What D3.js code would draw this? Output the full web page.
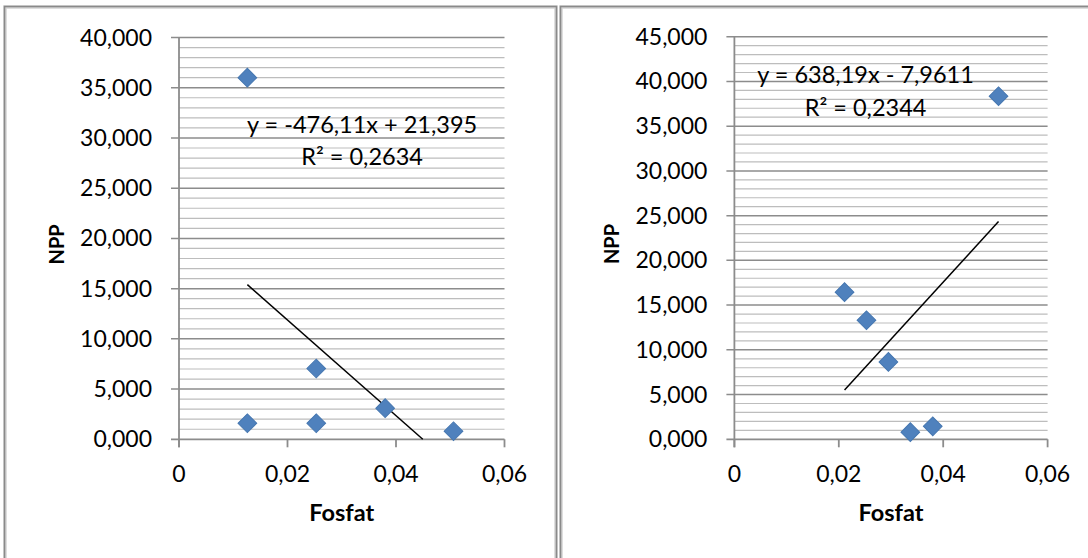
<!DOCTYPE html>
<html>
<head>
<meta charset="utf-8">
<script src="https://cdn.jsdelivr.net/npm/d3@7"></script>
<style>
  html, body { margin: 0; padding: 0; background: #fff; }
  svg { display: block; }
  text { font-family: Lato, "Open Sans", sans-serif; fill: #000; }
</style>
</head>
<body>
<svg id="chart" width="1088" height="558"></svg>
<script>
// ---------- DATA ----------
const xTickValues = [0, 0.02, 0.04, 0.06];
const xTickLabels = ["0", "0,02", "0,04", "0,06"];

const leftYTickValues = [0, 5, 10, 15, 20, 25, 30, 35, 40];
const leftYTickLabels = ["0,000", "5,000", "10,000", "15,000", "20,000", "25,000", "30,000", "35,000", "40,000"];
const rightYTickValues = [0, 5, 10, 15, 20, 25, 30, 35, 40, 45];
const rightYTickLabels = ["0,000", "5,000", "10,000", "15,000", "20,000", "25,000", "30,000", "35,000", "40,000", "45,000"];

// Left chart: Fosfat vs NPP
const leftFosfat = [0.0126, 0.0126, 0.0253, 0.0253, 0.0380, 0.0506];
const leftNPP    = [36.0, 1.6, 7.05, 1.6, 3.1, 0.8];
const leftTrend  = [-476.11, 21.395];   // slope, intercept
const leftEquation = ["y = -476,11x + 21,395", "R² = 0,2634"];

// Right chart: Fosfat vs NPP
const rightFosfat = [0.0211, 0.0253, 0.0295, 0.0337, 0.0380, 0.0506];
const rightNPP    = [16.45, 13.3, 8.65, 0.8, 1.45, 38.35];
const rightTrend  = [638.19, -7.9611];
const rightEquation = ["y = 638,19x - 7,9611", "R² = 0,2344"];

const xTitle = "Fosfat";
const yTitle = "NPP";

// ---------- DRAW ----------
const svg = d3.select("#chart");

function drawFrame(x, y, w, h) {
  svg.append("rect").attr("x", x).attr("y", y).attr("width", w).attr("height", h)
    .attr("fill", "none").attr("stroke", "#d4d4d4").attr("stroke-width", 3.5);
  svg.append("rect").attr("x", x - 0.5).attr("y", y - 0.5).attr("width", w + 1).attr("height", h + 1)
    .attr("fill", "none").attr("stroke", "#8a8a8a").attr("stroke-width", 1.6);
}

function drawChart(cfg) {
  const x = d3.scaleLinear().domain([0, 0.06]).range([cfg.left, cfg.right]);
  const y = d3.scaleLinear().domain([0, cfg.yMax]).range([cfg.bottom, cfg.top]);
  const g = svg.append("g");

  // minor gridlines
  const minor = d3.range(1, cfg.yMax).filter(v => v % 5 !== 0);
  g.selectAll(".minor").data(minor).join("line")
    .attr("x1", x(0)).attr("x2", x(0.06))
    .attr("y1", d => y(d)).attr("y2", d => y(d))
    .attr("stroke", "#bdbdbd").attr("stroke-width", 1.2);

  // major gridlines
  g.selectAll(".major").data(cfg.yTicks.filter(v => v > 0)).join("line")
    .attr("x1", x(0) - 8).attr("x2", x(0.06))
    .attr("y1", d => y(d)).attr("y2", d => y(d))
    .attr("stroke", "#8c8c8c").attr("stroke-width", 1.5);

  // axes lines
  g.append("line").attr("x1", x(0)).attr("x2", x(0)).attr("y1", y(cfg.yMax)).attr("y2", y(0) + 8)
    .attr("stroke", "#8c8c8c").attr("stroke-width", 1.8);
  g.append("line").attr("x1", x(0) - 8).attr("x2", x(0.06)).attr("y1", y(0)).attr("y2", y(0))
    .attr("stroke", "#8c8c8c").attr("stroke-width", 1.8);
  g.selectAll(".xtick").data(xTickValues).join("line")
    .attr("x1", d => x(d)).attr("x2", d => x(d))
    .attr("y1", y(0)).attr("y2", y(0) + 8)
    .attr("stroke", "#8c8c8c").attr("stroke-width", 1.8);

  // y tick labels
  g.selectAll(".ylab").data(cfg.yTicks).join("text")
    .attr("x", x(0) - 27).attr("y", d => y(d))
    .attr("dy", "0.35em")
    .attr("text-anchor", "end")
    .attr("font-size", 23)
    .text((d, i) => cfg.yLabels[i]);

  // x tick labels
  g.selectAll(".xlab").data(xTickValues).join("text")
    .attr("x", d => x(d)).attr("y", y(0) + 43)
    .attr("text-anchor", "middle")
    .attr("font-size", 23)
    .text((d, i) => xTickLabels[i]);

  // axis titles
  g.append("text").attr("x", (x(0) + x(0.06)) / 2).attr("y", y(0) + 82)
    .attr("text-anchor", "middle").attr("font-size", 23.5).attr("font-weight", "bold")
    .text(xTitle);
  g.append("text")
    .attr("transform", `translate(${cfg.yTitleX},${(y(0) + y(cfg.yMax)) / 2 + 6}) rotate(-90)`)
    .attr("text-anchor", "middle").attr("font-size", 20).attr("font-weight", "bold")
    .text(yTitle);

  // trend line (clipped at y = 0 like the original)
  const [m, b] = cfg.trend;
  const xs = d3.min(cfg.xs), xe = d3.max(cfg.xs);
  let x2 = xe, y2 = m * xe + b;
  if (y2 < 0) { x2 = -b / m; y2 = 0; }
  g.append("line")
    .attr("x1", x(xs)).attr("y1", y(m * xs + b))
    .attr("x2", x(x2)).attr("y2", y(y2))
    .attr("stroke", "#000").attr("stroke-width", 1.5);

  // markers
  const sym = d3.symbol().type(d3.symbolSquare).size(175);
  g.selectAll(".pt").data(cfg.xs.map((v, i) => [v, cfg.ys[i]])).join("path")
    .attr("d", sym)
    .attr("transform", d => `translate(${x(d[0])},${y(d[1])}) rotate(45)`)
    .attr("fill", "#4f81bd").attr("stroke", "#4677b0").attr("stroke-width", 1);

  // equation label
  g.selectAll(".eq").data(cfg.eq).join("text")
    .attr("x", x(cfg.eqPos[0]))
    .attr("y", (d, i) => y(cfg.eqPos[1]) + i * cfg.eqGap)
    .attr("text-anchor", "middle")
    .attr("font-size", 23.5)
    .text(d => d);
}

drawFrame(5, 7, 551, 620);
drawFrame(561, 7, 620, 620);

drawChart({
  left: 179, right: 504.5, top: 37.5, bottom: 439.3, yMax: 40,
  yTicks: leftYTickValues, yLabels: leftYTickLabels,
  xs: leftFosfat, ys: leftNPP, trend: leftTrend, eq: leftEquation,
  eqPos: [0.03375, 30.45], eqGap: 32, yTitleX: 64
});

drawChart({
  left: 734.4, right: 1047.6, top: 36.7, bottom: 439.3, yMax: 45,
  yTicks: rightYTickValues, yLabels: rightYTickLabels,
  xs: rightFosfat, ys: rightNPP, trend: rightTrend, eq: rightEquation,
  eqPos: [0.02513, 39.8], eqGap: 33, yTitleX: 619
});
</script>
</body>
</html>
